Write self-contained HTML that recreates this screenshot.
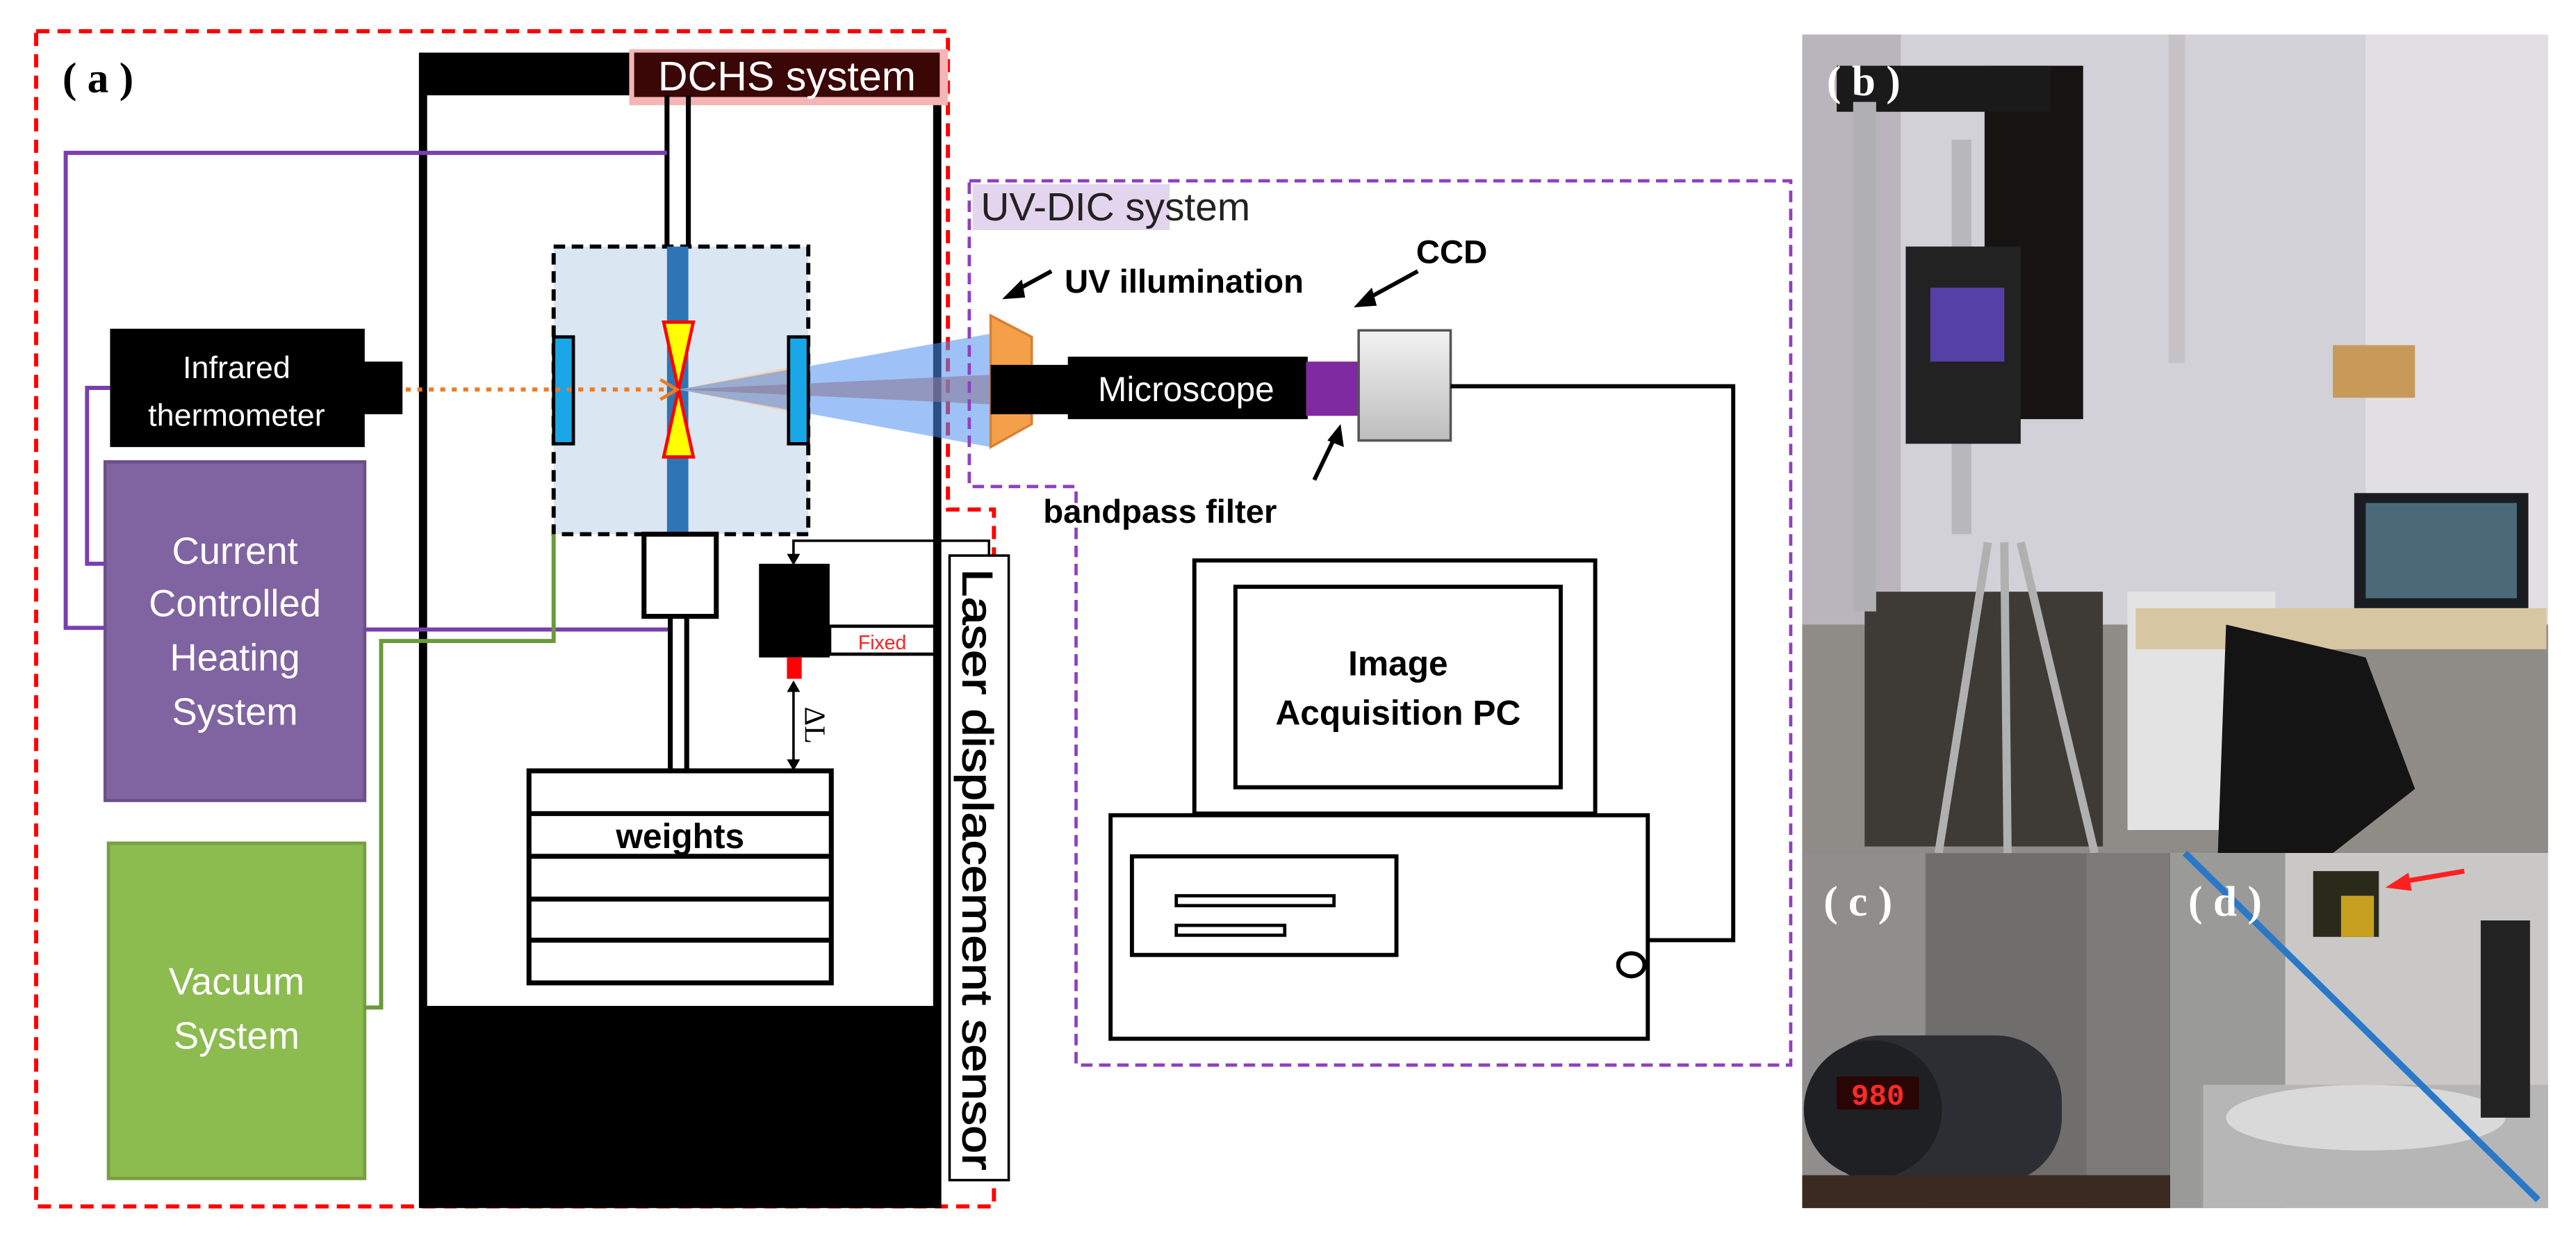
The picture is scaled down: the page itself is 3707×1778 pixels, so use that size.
<!DOCTYPE html>
<html><head><meta charset="utf-8"><style>
html,body{margin:0;padding:0;background:#fff;}
svg{display:block;}
text{font-family:"Liberation Sans","DejaVu Sans",sans-serif;}
text.serif{font-family:"Liberation Serif","DejaVu Serif",serif;}
text.mono{font-family:"Liberation Mono",monospace;}
</style></head><body>
<svg width="3707" height="1778" viewBox="0 0 1568 752" preserveAspectRatio="none" xmlns="http://www.w3.org/2000/svg">
<defs>
<linearGradient id="ccd" x1="0" y1="0" x2="0" y2="1"><stop offset="0" stop-color="#f2f2f2"/><stop offset="1" stop-color="#bdbdbd"/></linearGradient>
</defs>
<rect width="1568" height="752" fill="#fff"/>

<path d="M22,19 H577 V310 H605 V734 H22 Z" fill="none" stroke="#ff0000" stroke-width="2.5" stroke-dasharray="8,5"/>

<text class="serif" x="38" y="56" font-weight="bold" font-size="26">( a )</text>

<rect x="255" y="32" width="318" height="703" fill="#000"/>
<rect x="260" y="58" width="308" height="554" fill="#fff"/>
<rect x="383" y="30" width="194" height="34" fill="#f4b5b5"/>
<rect x="386" y="32" width="186" height="27" fill="#3a0606"/>
<text x="479" y="55" text-anchor="middle" font-size="25" fill="#fff">DCHS system</text>

<line x1="406" y1="58" x2="406" y2="150" stroke="#000" stroke-width="3"/>
<line x1="419" y1="58" x2="419" y2="150" stroke="#000" stroke-width="3"/>

<rect x="337" y="150" width="155" height="175" fill="#dae6f1" stroke="#000" stroke-width="2.5" stroke-dasharray="7,4"/>
<rect x="406" y="150" width="13" height="175" fill="#2e75b6"/>
<polygon points="413,237 488,222 488,252" fill="#f8c9a0" opacity="0.85"/>
<polygon points="413,237 603,203 603,272" fill="#4f8ff0" opacity="0.55"/>
<polygon points="413,237 603,228 603,246" fill="#8a7a9a" opacity="0.6"/>
<polygon points="404,196 422,196 413,237" fill="#ffff00" stroke="#ff0000" stroke-width="2"/>
<polygon points="404,278 422,278 413,237" fill="#ffff00" stroke="#ff0000" stroke-width="2"/>
<rect x="337" y="205" width="12" height="65" fill="#1aa7e8" stroke="#000" stroke-width="2"/>
<rect x="480" y="205" width="12" height="65" fill="#1aa7e8" stroke="#000" stroke-width="2"/>

<rect x="67" y="200" width="155" height="72" fill="#000"/>
<rect x="220" y="220" width="25" height="32" fill="#000"/>
<text x="144" y="230" text-anchor="middle" font-size="19" fill="#fff">Infrared</text>
<text x="144" y="259" text-anchor="middle" font-size="19" fill="#fff">thermometer</text>
<line x1="247" y1="237" x2="408" y2="237" stroke="#f07a20" stroke-width="2.5" stroke-dasharray="3,4"/>
<path d="M402,231 L412,237 L402,243" fill="none" stroke="#f07a20" stroke-width="2"/>

<rect x="64" y="281" width="158" height="206" fill="#8064a2" stroke="#6b5189" stroke-width="2"/>
<text x="143" y="343" text-anchor="middle" font-size="23" fill="#fff">Current</text>
<text x="143" y="375" text-anchor="middle" font-size="23" fill="#fff">Controlled</text>
<text x="143" y="408" text-anchor="middle" font-size="23" fill="#fff">Heating</text>
<text x="143" y="441" text-anchor="middle" font-size="23" fill="#fff">System</text>

<rect x="66" y="513" width="156" height="204" fill="#8cbb50" stroke="#75a040" stroke-width="2"/>
<text x="144" y="605" text-anchor="middle" font-size="23" fill="#fff">Vacuum</text>
<text x="144" y="638" text-anchor="middle" font-size="23" fill="#fff">System</text>

<polyline points="406,93 40,93 40,382 64,382" fill="none" stroke="#7a3fae" stroke-width="2.5"/>
<polyline points="67,236 53,236 53,343 64,343" fill="none" stroke="#7a3fae" stroke-width="2.5"/>
<line x1="222" y1="383" x2="408" y2="383" stroke="#7a3fae" stroke-width="2.5"/>
<polyline points="222,613 232,613 232,390 337,390 337,325" fill="none" stroke="#6a9a3a" stroke-width="2.5"/>

<rect x="392" y="325" width="44" height="50" fill="#fff" stroke="#000" stroke-width="3"/>
<line x1="408" y1="375" x2="408" y2="468" stroke="#000" stroke-width="3"/>
<line x1="418" y1="375" x2="418" y2="468" stroke="#000" stroke-width="3"/>

<rect x="322" y="469" width="184" height="129" fill="#fff" stroke="#000" stroke-width="3"/>
<line x1="322" y1="495" x2="506" y2="495" stroke="#000" stroke-width="3"/>
<line x1="322" y1="521" x2="506" y2="521" stroke="#000" stroke-width="3"/>
<line x1="322" y1="547" x2="506" y2="547" stroke="#000" stroke-width="3"/>
<line x1="322" y1="572" x2="506" y2="572" stroke="#000" stroke-width="3"/>
<text x="414" y="516" text-anchor="middle" font-size="21" font-weight="bold">weights</text>

<rect x="462" y="343" width="43" height="57" fill="#000"/>
<rect x="479" y="400" width="9" height="13" fill="#ff0000"/>
<rect x="505" y="381" width="64" height="17" fill="#fff" stroke="#000" stroke-width="2"/>
<text x="537" y="395" text-anchor="middle" font-size="12" fill="#ff2020">Fixed</text>
<polyline points="602,338 602,329 483,329 483,340" fill="none" stroke="#000" stroke-width="1.5"/>
<path d="M479,337 L483,344 L487,337 Z" fill="#000"/>
<line x1="483" y1="418" x2="483" y2="465" stroke="#000" stroke-width="1.5"/>
<path d="M479,421 L483,414 L487,421 Z" fill="#000"/>
<path d="M479,462 L483,469 L487,462 Z" fill="#000"/>
<text class="serif" x="0" y="0" font-size="18" transform="translate(490,430) rotate(90)">ΔL</text>

<rect x="578" y="338" width="36" height="380" fill="#fff" stroke="#000" stroke-width="1.5"/>
<text x="0" y="0" font-size="26" transform="translate(586,346) rotate(90)" textLength="366" lengthAdjust="spacingAndGlyphs" stroke="#000" stroke-width="0.5">Laser displacement sensor</text>

<path d="M590,110 H1090 V648 H655 V296 H590 Z" fill="none" stroke="#8f3fc0" stroke-width="2" stroke-dasharray="7,4"/>
<rect x="592" y="112" width="120" height="28" fill="#e4d5ee"/>
<text x="597" y="134" font-size="24" fill="#222">UV-DIC system</text>

<polygon points="603,192 628,205 628,258 603,272" fill="#f4a04a" stroke="#d98030" stroke-width="1.5"/>
<rect x="603" y="222" width="50" height="30" fill="#000"/>
<rect x="650" y="217" width="146" height="38" fill="#000"/>
<text x="722" y="244" text-anchor="middle" font-size="21" fill="#fff">Microscope</text>
<rect x="795" y="220" width="32" height="33" fill="#7f2aa0"/>
<rect x="827" y="201" width="56" height="67" fill="url(#ccd)" stroke="#555" stroke-width="1.5"/>
<polyline points="883,235 1055,235 1055,572 1003,572" fill="none" stroke="#000" stroke-width="2.5"/>

<text x="648" y="178" font-size="20" font-weight="bold">UV illumination</text>
<line x1="640" y1="165" x2="616" y2="178" stroke="#000" stroke-width="2.5"/>
<path d="M610,182 L622,170 L624,181 Z" fill="#000"/>
<text x="862" y="160" font-size="20" font-weight="bold">CCD</text>
<line x1="863" y1="165" x2="830" y2="183" stroke="#000" stroke-width="2.5"/>
<path d="M824,187 L835,175 L838,186 Z" fill="#000"/>
<text x="635" y="318" font-size="20" font-weight="bold">bandpass filter</text>
<line x1="800" y1="292" x2="813" y2="265" stroke="#000" stroke-width="2.5"/>
<path d="M816,258 L818,272 L808,268 Z" fill="#000"/>

<rect x="727" y="341" width="244" height="154" fill="#fff" stroke="#000" stroke-width="2.5"/>
<rect x="752" y="357" width="198" height="122" fill="#fff" stroke="#000" stroke-width="2.5"/>
<text x="851" y="411" text-anchor="middle" font-size="21" font-weight="bold">Image</text>
<text x="851" y="441" text-anchor="middle" font-size="21" font-weight="bold">Acquisition PC</text>
<rect x="676" y="496" width="327" height="136" fill="#fff" stroke="#000" stroke-width="2.5"/>
<rect x="689" y="521" width="161" height="60" fill="#fff" stroke="#000" stroke-width="2.5"/>
<rect x="716" y="545" width="96" height="6" fill="#fff" stroke="#000" stroke-width="2"/>
<rect x="716" y="563" width="66" height="6" fill="#fff" stroke="#000" stroke-width="2"/>
<ellipse cx="993" cy="587" rx="8" ry="7" fill="#fff" stroke="#000" stroke-width="2.5"/>

<!-- photo b -->
<rect x="1097" y="21" width="454" height="498" fill="#d3d1d8"/>
<rect x="1097" y="21" width="60" height="498" fill="#b8b6bc"/>
<rect x="1440" y="21" width="111" height="498" fill="#e1dfe4"/>
<rect x="1320" y="21" width="10" height="200" fill="#c5c3c8"/>
<rect x="1208" y="40" width="60" height="215" fill="#161412"/>
<rect x="1097" y="380" width="454" height="139" fill="#8f8b86"/>
<rect x="1135" y="360" width="145" height="155" fill="#3e3a36"/>
<rect x="1118" y="40" width="130" height="28" fill="#1a1a1a"/>
<rect x="1128" y="62" width="14" height="310" fill="#b0b0b4"/>
<rect x="1188" y="85" width="12" height="240" fill="#b8b8bc"/>
<rect x="1160" y="150" width="70" height="120" fill="#222"/>
<rect x="1175" y="175" width="45" height="45" fill="#5540a8"/>
<rect x="1295" y="360" width="90" height="145" fill="#e3e3e3"/>
<rect x="1300" y="370" width="250" height="25" fill="#d7c6a2"/>
<rect x="1433" y="300" width="106" height="70" fill="#1b1b22"/>
<rect x="1440" y="306" width="92" height="58" fill="#4a6a78"/>
<path d="M1355,380 L1440,400 L1470,480 L1420,519 L1350,519 Z" fill="#141414"/>
<path d="M1210,330 L1180,519 M1230,330 L1275,519 M1220,330 L1222,519" stroke="#b0b0b0" stroke-width="5"/>
<rect x="1420" y="210" width="50" height="32" fill="#c89a5a"/>
<text class="serif" x="1112" y="58" font-weight="bold" font-size="26" fill="#fff">( b )</text>

<!-- photo c -->
<rect x="1097" y="519" width="224" height="216" fill="#6f6e6c"/>
<rect x="1097" y="519" width="75" height="216" fill="#8f8e8c"/>
<rect x="1270" y="519" width="51" height="216" fill="#7b7a78"/>
<rect x="1105" y="630" width="150" height="90" rx="40" fill="#2c2e33"/>
<ellipse cx="1140" cy="675" rx="42" ry="42" fill="#1e2024"/>
<rect x="1118" y="655" width="50" height="20" fill="#2a0505"/>
<text class="mono" x="1143" y="672" text-anchor="middle" font-weight="bold" font-size="18" fill="#ff2a2a">980</text>
<rect x="1097" y="715" width="224" height="20" fill="#3a2a20"/>
<text class="serif" x="1110" y="557" font-weight="bold" font-size="26" fill="#fff">( c )</text>

<!-- photo d -->
<rect x="1321" y="519" width="230" height="216" fill="#c9c8c6"/>
<rect x="1321" y="519" width="70" height="216" fill="#9a9a98"/>
<rect x="1341" y="660" width="210" height="75" fill="#b6b6b6"/>
<ellipse cx="1440" cy="680" rx="85" ry="20" fill="#d9d9d9"/>
<rect x="1408" y="530" width="40" height="40" fill="#2a2a1a"/>
<rect x="1425" y="545" width="20" height="25" fill="#c8a020"/>
<line x1="1330" y1="519" x2="1545" y2="730" stroke="#2a78c8" stroke-width="4"/>
<line x1="1465" y1="536" x2="1500" y2="530" stroke="#ff2020" stroke-width="3"/>
<path d="M1452,540 L1466,531 L1468,542 Z" fill="#ff2020"/>
<rect x="1510" y="560" width="30" height="120" fill="#222"/>
<text class="serif" x="1332" y="557" font-weight="bold" font-size="26" fill="#fff">( d )</text>
</svg>
</body></html>
